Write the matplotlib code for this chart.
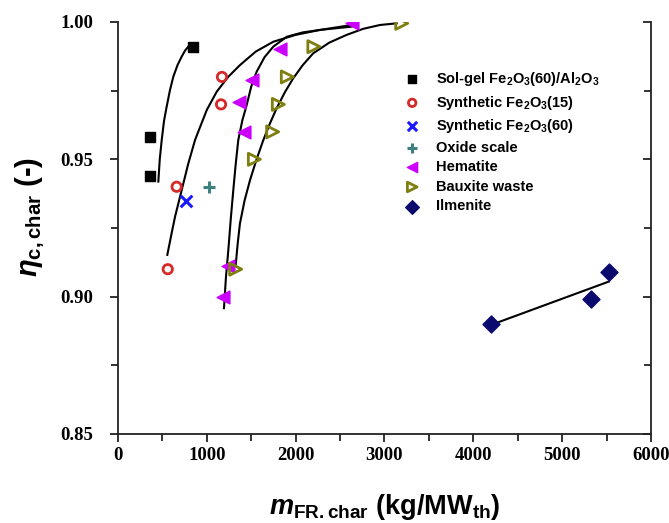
import matplotlib
matplotlib.use("Agg")
import matplotlib.pyplot as plt
from matplotlib.ticker import MultipleLocator

plt.rcParams["mathtext.fontset"] = "custom"
plt.rcParams["mathtext.rm"] = "Liberation Sans:bold"
plt.rcParams["mathtext.it"] = "Liberation Sans:italic:bold"
plt.rcParams["mathtext.bf"] = "Liberation Sans:bold"

# scatter data (kg/MWth, -)
solgel_x = [360, 360, 841]
solgel_y = [0.944, 0.958, 0.991]
syn15_x = [560, 660, 1160, 1170]
syn15_y = [0.910, 0.940, 0.970, 0.980]
syn60_x = [765]
syn60_y = [0.935]
oxide_x = [1024]
oxide_y = [0.940]
hem_x = [1186, 1235, 1422, 1366, 1505, 1824, 2631]
hem_y = [0.900, 0.911, 0.960, 0.971, 0.979, 0.990, 0.9995]
baux_x = [1325, 1535, 1741, 1805, 1906, 2205, 3194]
baux_y = [0.910, 0.950, 0.960, 0.970, 0.980, 0.991, 0.9995]
ilm_x = [4195, 5325, 5527]
ilm_y = [0.890, 0.899, 0.909]

# trend curves
fit_solgel_x = [454, 470, 492, 518, 548, 585, 623, 670, 717, 755, 791]
fit_solgel_y = [0.9419, 0.9500, 0.9570, 0.9640, 0.9692, 0.9752, 0.9801, 0.9843, 0.9874, 0.9896, 0.9910]
fit_syn_x = [555, 600, 642, 717, 790, 867, 904, 1000, 1111, 1240, 1373, 1550, 1748, 2000, 2274, 2631]
fit_syn_y = [0.9152, 0.9225, 0.9291, 0.9388, 0.9483, 0.9570, 0.9601, 0.9680, 0.9746, 0.9800, 0.9843, 0.9892,
             0.9928, 0.9953, 0.9971, 0.9983]
fit_hem_x = [1193, 1215, 1242, 1270, 1298, 1325, 1354, 1400, 1449, 1500, 1561, 1650, 1748, 1899, 2080, 2274, 2631]
fit_hem_y = [0.8958, 0.9070, 0.9170, 0.9285, 0.9388, 0.9482, 0.9570, 0.9642, 0.9698, 0.9765, 0.9819, 0.9872,
             0.9910, 0.9946, 0.9962, 0.9971, 0.9989]
fit_baux_x = [1325, 1348, 1373, 1425, 1486, 1560, 1636, 1710, 1786, 1880, 1973, 2080, 2198, 2380, 2574, 2760,
              2949, 3137]
fit_baux_y = [0.9115, 0.9195, 0.9267, 0.9350, 0.9424, 0.9500, 0.9570, 0.9630, 0.9686, 0.9745, 0.9795, 0.9843,
              0.9886, 0.9925, 0.9953, 0.9975, 0.9989, 0.9995]
fit_ilm_x = [4207, 5527]
fit_ilm_y = [0.8898, 0.9055]

fig = plt.figure(figsize=(6.69, 5.23), dpi=100)
ax = fig.add_axes([0.1764, 0.1702, 0.973 - 0.1764, 0.958 - 0.1702])

for fx, fy in [(fit_solgel_x, fit_solgel_y), (fit_syn_x, fit_syn_y),
               (fit_hem_x, fit_hem_y), (fit_baux_x, fit_baux_y),
               (fit_ilm_x, fit_ilm_y)]:
    ax.plot(fx, fy, color="black", lw=1.5, zorder=2, solid_joinstyle="round")

ax.scatter(solgel_x, solgel_y, marker="s", s=55, color="black", zorder=3,
           label="Sol-gel Fe$_2$O$_3$(60)/Al$_2$O$_3$")
ax.scatter(syn15_x, syn15_y, marker="o", s=45, facecolor="none", edgecolor="#d42a2a",
           linewidths=2, zorder=3, label="Synthetic Fe$_2$O$_3$(15)")
ax.scatter(syn60_x, syn60_y, marker="x", s=70, color="#1a1aff", linewidths=2.2, zorder=3,
           label="Synthetic Fe$_2$O$_3$(60)")
ax.scatter(oxide_x, oxide_y, marker="+", s=80, color="#3d8080", linewidths=2.2, zorder=3,
           label="Oxide scale")
ax.scatter(hem_x, hem_y, marker="<", s=85, color="#cc00ff", zorder=3, label="Hematite")
ax.scatter(baux_x, baux_y, marker=">", s=75, facecolor="none", edgecolor="#7f7f10",
           linewidths=2, zorder=3, label="Bauxite waste")
ax.scatter(ilm_x, ilm_y, marker="D", s=75, color="#0a0a6e", zorder=3, label="Ilmenite")

ax.set_xlim(0, 6000)
ax.set_ylim(0.85, 1.00)
ax.xaxis.set_major_locator(MultipleLocator(1000))
ax.xaxis.set_minor_locator(MultipleLocator(500))
ax.yaxis.set_major_locator(MultipleLocator(0.05))
ax.yaxis.set_minor_locator(MultipleLocator(0.025))
ax.yaxis.set_major_formatter(plt.FormatStrFormatter("%.2f"))

ax.spines["top"].set_visible(False)
for s in ["left", "bottom", "right"]:
    ax.spines[s].set_linewidth(1.3)
    ax.spines[s].set_color("#222222")

ax.tick_params(axis="both", which="both", width=1.3, color="#222222")
ax.tick_params(axis="both", which="major", length=6)
ax.tick_params(axis="both", which="minor", length=5)
ax.tick_params(axis="y", which="both", right=True, left=True)
ax.tick_params(axis="y", which="major", pad=12)
# right-side ticks point inward
for t in ax.yaxis.get_major_ticks() + ax.yaxis.get_minor_ticks():
    t.tick2line.set_marker(0)

for lab in ax.get_xticklabels() + ax.get_yticklabels():
    lab.set_fontfamily("Liberation Serif")
    lab.set_fontweight("bold")
    lab.set_fontsize(13.5)

ax.set_xlabel(r"$m_{\mathrm{FR.char}}$ (kg/MW$_{\mathrm{th}}$)", fontsize=19.5,
              fontfamily="Liberation Sans", fontweight="bold", labelpad=20)
ax.set_ylabel(r"$\eta_{\mathrm{c,char}}$ (-)", fontsize=21,
              fontfamily="Liberation Sans", fontweight="bold")
ax.yaxis.set_label_coords(-0.133, 0.527)

ax.legend(loc="upper left", bbox_to_anchor=(0.5, 0.915), frameon=False,
          prop={"family": "Liberation Sans", "weight": "bold", "size": 10.5},
          handletextpad=0.6, labelspacing=0.38, markerscale=0.8)

fig.savefig("out.png", dpi=100)
